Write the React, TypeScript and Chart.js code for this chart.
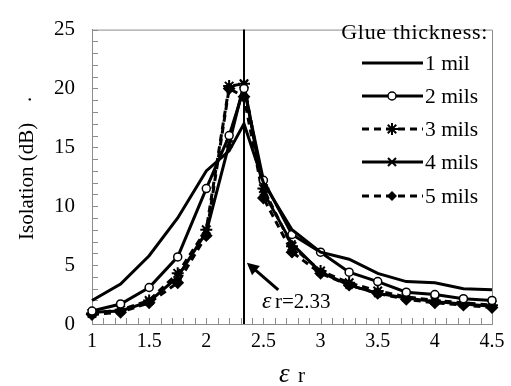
import React, { useEffect, useRef } from "react";
import { Chart, registerables } from "chart.js";
Chart.register(...registerables);

const epsR = [1, 1.25, 1.5, 1.75, 2, 2.2, 2.33, 2.5, 2.75, 3, 3.25, 3.5, 3.75, 4, 4.25, 4.5];
const mil1 = [2.0, 3.4, 5.8, 9.0, 13.0, 14.7, 17.0, 12.0, 8.0, 6.1, 5.5, 4.3, 3.6, 3.5, 3.0, 2.9];
const mil2 = [1.1, 1.7, 3.1, 5.7, 11.5, 16.0, 20.0, 12.2, 7.6, 6.1, 4.4, 3.6, 2.7, 2.5, 2.15, 2.0];
const mil3 = [0.9, 1.2, 2.0, 4.3, 8.0, 20.2, 20.4, 11.5, 6.6, 4.5, 3.5, 2.8, 2.3, 2.0, 1.8, 1.6];
const mil4 = [1.0, 1.1, 1.9, 4.0, 7.8, 15.3, 20.4, 11.2, 6.8, 4.4, 3.3, 2.6, 2.2, 1.9, 1.7, 1.5];
const mil5 = [0.8, 1.0, 1.8, 3.5, 7.5, 20.0, 19.3, 10.7, 6.1, 4.3, 3.3, 2.6, 2.1, 1.8, 1.6, 1.4];

const seriesLabels = ["1 mil", "2 mils", "3 mils", "4 mils", "5 mils"];
const seriesValues = [mil1, mil2, mil3, mil4, mil5];
const seriesStyles = ["none", "circle", "star", "crossRot", "rectRot"];
const seriesDashed = [false, false, true, false, true];

const xTicks = [1, 1.5, 2, 2.5, 3, 3.5, 4, 4.5];
const yTicks = [0, 5, 10, 15, 20, 25];
const markerX = 2.33;
const legendTitle = "Glue thickness:";
const yTitle = "Isolation (dB)";

const SERIF = '"Liberation Serif", "Times New Roman", serif';
const AXIS_GREY = "#8c8c8c";

function drawMarker(ctx: CanvasRenderingContext2D, style: string, x: number, y: number) {
  ctx.save();
  ctx.setLineDash([]);
  ctx.strokeStyle = "#000";
  ctx.fillStyle = "#000";
  if (style === "circle") {
    ctx.lineWidth = 1.5;
    ctx.fillStyle = "#fff";
    ctx.beginPath();
    ctx.arc(x, y, 4, 0, Math.PI * 2);
    ctx.fill();
    ctx.stroke();
  } else if (style === "star") {
    ctx.lineWidth = 2;
    const r = 6;
    ctx.beginPath();
    ctx.moveTo(x - r, y); ctx.lineTo(x + r, y);
    ctx.moveTo(x, y - r); ctx.lineTo(x, y + r);
    const d = r * 0.707;
    ctx.moveTo(x - d, y - d); ctx.lineTo(x + d, y + d);
    ctx.moveTo(x - d, y + d); ctx.lineTo(x + d, y - d);
    ctx.stroke();
  } else if (style === "crossRot") {
    ctx.lineWidth = 2;
    const d = 4;
    ctx.beginPath();
    ctx.moveTo(x - d, y - d); ctx.lineTo(x + d, y + d);
    ctx.moveTo(x - d, y + d); ctx.lineTo(x + d, y - d);
    ctx.stroke();
  } else if (style === "rectRot") {
    const r = 5;
    ctx.beginPath();
    ctx.moveTo(x, y - r); ctx.lineTo(x + r, y); ctx.lineTo(x, y + r); ctx.lineTo(x - r, y);
    ctx.closePath();
    ctx.fill();
  }
  ctx.restore();
}

const decorPlugin = {
  id: "decor",
  beforeDatasetsDraw(chart: any) {
    const { ctx, chartArea, scales } = chart;
    const xs = scales.x, ys = scales.y;
    ctx.save();
    ctx.strokeStyle = AXIS_GREY;
    ctx.lineWidth = 1;
    ctx.beginPath();
    ctx.moveTo(chartArea.left, chartArea.top + 0.5);
    ctx.lineTo(chartArea.right + 0.5, chartArea.top + 0.5);
    ctx.lineTo(chartArea.right + 0.5, chartArea.bottom);
    ctx.stroke();
    ctx.beginPath();
    for (let v = 0; v <= 25; v += 1) {
      const py = Math.round(ys.getPixelForValue(v)) + 0.5;
      ctx.moveTo(chartArea.left, py);
      ctx.lineTo(chartArea.left + 6, py);
    }
    for (let i = 10; i <= 45; i += 1) {
      const px = Math.round(xs.getPixelForValue(i / 10)) + 0.5;
      ctx.moveTo(px, chartArea.bottom);
      ctx.lineTo(px, chartArea.bottom - 6);
    }
    ctx.stroke();
    const vx = xs.getPixelForValue(markerX);
    ctx.strokeStyle = "#000";
    ctx.lineWidth = 2;
    ctx.beginPath();
    ctx.moveTo(vx, chartArea.bottom);
    ctx.lineTo(vx, chartArea.top);
    ctx.stroke();
    ctx.restore();
  },
  afterDatasetsDraw(chart: any) {
    const { ctx, scales } = chart;
    const xs = scales.x, ys = scales.y;
    ctx.save();
    const tx = xs.getPixelForValue(2.63), ty = ys.getPixelForValue(2.9);
    const hx = xs.getPixelForValue(2.355), hy = ys.getPixelForValue(5.2);
    const ang = Math.atan2(hy - ty, hx - tx);
    ctx.strokeStyle = "#000";
    ctx.fillStyle = "#000";
    ctx.lineWidth = 3;
    ctx.beginPath();
    ctx.moveTo(tx, ty);
    ctx.lineTo(hx - 8 * Math.cos(ang), hy - 8 * Math.sin(ang));
    ctx.stroke();
    ctx.beginPath();
    ctx.moveTo(hx, hy);
    ctx.lineTo(hx - 12 * Math.cos(ang) + 6 * Math.sin(ang), hy - 12 * Math.sin(ang) - 6 * Math.cos(ang));
    ctx.lineTo(hx - 12 * Math.cos(ang) - 6 * Math.sin(ang), hy - 12 * Math.sin(ang) + 6 * Math.cos(ang));
    ctx.closePath();
    ctx.fill();
    ctx.textBaseline = "alphabetic";
    ctx.textAlign = "left";
    ctx.font = `italic 24px ${SERIF}`;
    ctx.fillText("ε", 262, 308);
    ctx.font = `21px ${SERIF}`;
    ctx.fillText("r=2.33", 275, 308);

    // legend
    ctx.font = `22px ${SERIF}`;
    ctx.textAlign = "right";
    ctx.textBaseline = "middle";
    (ctx as any).letterSpacing = "0.7px";
    ctx.fillText(legendTitle, 488, 33);
    (ctx as any).letterSpacing = "0px";
    ctx.textAlign = "left";
    ctx.font = `21.5px ${SERIF}`;
    const rows = [63, 96, 129, 162, 196];
    chart.data.datasets.forEach((ds: any, i: number) => {
      const y = rows[i];
      ctx.save();
      ctx.strokeStyle = "#000";
      ctx.lineWidth = ds.borderWidth;
      ctx.setLineDash(ds.borderDash || []);
      ctx.beginPath();
      ctx.moveTo(362, y);
      ctx.lineTo(423, y);
      ctx.stroke();
      ctx.restore();
      drawMarker(ctx, seriesStyles[i], 392, y);
      ctx.fillStyle = "#000";
      ctx.fillText(ds.label, 425, y + 1);
    });

    ctx.save();
    ctx.translate(33, 240);
    ctx.rotate(-Math.PI / 2);
    ctx.textAlign = "left";
    ctx.textBaseline = "alphabetic";
    ctx.font = `21px ${SERIF}`;
    ctx.fillText(yTitle, 0, 0);
    ctx.fillText(".", 138, -2);
    ctx.restore();

    ctx.textAlign = "left";
    ctx.textBaseline = "alphabetic";
    ctx.font = `italic 27px ${SERIF}`;
    ctx.fillText("ε", 279, 382);
    ctx.font = `21px ${SERIF}`;
    ctx.fillText("r", 298, 382);
    ctx.restore();
  },
};

export default function App() {
  const ref = useRef<HTMLCanvasElement | null>(null);
  useEffect(() => {
    if (!ref.current) return;
    const datasets = seriesValues.map((vals, i) => ({
      label: seriesLabels[i],
      data: vals.map((v, j) => ({ x: epsR[j], y: v })),
      borderColor: "#000",
      backgroundColor: "#000",
      borderWidth: 3,
      borderDash: seriesDashed[i] ? [7, 5] : [],
      pointStyle: seriesStyles[i] === "none" ? "circle" : seriesStyles[i],
      pointRadius: seriesStyles[i] === "none" ? 0 : seriesStyles[i] === "circle" ? 4 : seriesStyles[i] === "star" ? 6 : 5,
      pointBackgroundColor: seriesStyles[i] === "circle" ? "#fff" : "#000",
      pointBorderColor: "#000",
      pointBorderWidth: seriesStyles[i] === "circle" ? 1.5 : 2,
      tension: 0,
      clip: false as any,
    }));
    const chart = new Chart(ref.current, {
      type: "line",
      data: { datasets },
      options: {
        animation: false,
        responsive: true,
        maintainAspectRatio: false,
        layout: { padding: { top: 14, right: 19, left: 0, bottom: 0 } },
        plugins: { legend: { display: false }, tooltip: { enabled: false } },
        scales: {
          x: {
            type: "linear",
            min: 1,
            max: 4.5,
            afterBuildTicks: (s: any) => { s.ticks = xTicks.map((v) => ({ value: v })); },
            afterFit: (s: any) => { s.height = 62; },
            ticks: {
              color: "#000",
              font: { family: SERIF, size: 20 },
              padding: 6,
              maxRotation: 0,
              callback: (v: any) => String(v),
            },
            grid: { display: false, drawTicks: false },
            border: { display: true, color: AXIS_GREY, width: 1 },
          },
          y: {
            type: "linear",
            min: 0,
            max: 25,
            afterBuildTicks: (s: any) => { s.ticks = yTicks.map((v) => ({ value: v })); },
            afterFit: (s: any) => { s.width = 92; },
            ticks: {
              color: "#000",
              font: { family: SERIF, size: 21 },
              padding: 17,
              callback: (v: any) => String(v),
            },
            grid: { display: false, drawTicks: false },
            border: { display: true, color: AXIS_GREY, width: 1 },
          },
        },
      },
      plugins: [decorPlugin],
    });
    return () => chart.destroy();
  }, []);
  return (
    <div style={{ position: "fixed", left: 0, top: 0, width: 511, height: 386, background: "#fff" }}>
      <canvas ref={ref} />
    </div>
  );
}
